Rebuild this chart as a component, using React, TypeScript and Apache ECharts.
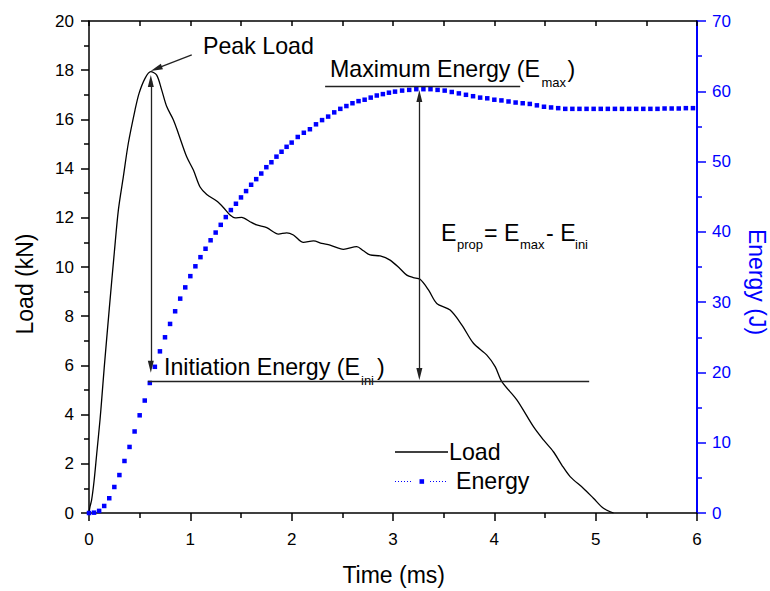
import React, { useEffect, useRef } from 'react';
import * as echarts from 'echarts';

const FONT = "'Liberation Sans', Arial, sans-serif";
const BLUE = '#0000ff';

// Load curve (time in ms, load in kN)
const loadTime = [0, 0.01, 0.026, 0.05, 0.076, 0.109, 0.125, 0.15, 0.2, 0.25, 0.29, 0.339, 0.388, 0.454, 0.494, 0.553, 0.609, 0.668, 0.717, 0.767, 0.833, 0.882, 0.964, 1.03, 1.096, 1.162, 1.26, 1.326, 1.392, 1.441, 1.507, 1.589, 1.655, 1.754, 1.869, 1.951, 2.017, 2.116, 2.215, 2.297, 2.379, 2.511, 2.642, 2.708, 2.774, 2.873, 2.971, 3.07, 3.136, 3.2, 3.267, 3.35, 3.432, 3.564, 3.68, 3.794, 3.926, 4.008, 4.074, 4.222, 4.386, 4.485, 4.583, 4.666, 4.748, 4.88, 4.978, 5.077, 5.176];
const loadKN = [0, 0.26, 0.53, 1.3, 2.4, 3.8, 4.6, 5.9, 8.3, 10.6, 12.32, 13.67, 15.03, 16.38, 17.06, 17.67, 17.94, 17.8, 17.2, 16.52, 15.98, 15.43, 14.48, 13.94, 13.25, 12.95, 12.68, 12.42, 12.11, 12.0, 12.02, 11.84, 11.71, 11.6, 11.34, 11.39, 11.3, 11.0, 11.06, 10.96, 10.89, 10.72, 10.83, 10.66, 10.49, 10.45, 10.28, 9.93, 9.67, 9.57, 9.5, 9.07, 8.52, 8.25, 7.64, 6.9, 6.42, 5.95, 5.34, 4.6, 3.51, 2.97, 2.49, 1.95, 1.48, 1.0, 0.6, 0.19, 0];

// Energy curve (time in ms, energy in J)
const energyTime = [0, 0.05, 0.1, 0.15, 0.2, 0.25, 0.3, 0.35, 0.4, 0.45, 0.5, 0.55, 0.6, 0.65, 0.7, 0.75, 0.8, 0.85, 0.9, 0.95, 1.0, 1.05, 1.1, 1.15, 1.2, 1.25, 1.3, 1.35, 1.4, 1.45, 1.5, 1.55, 1.6, 1.65, 1.7, 1.75, 1.8, 1.85, 1.9, 1.95, 2.0, 2.06, 2.12, 2.18, 2.24, 2.3, 2.36, 2.42, 2.48, 2.54, 2.6, 2.66, 2.72, 2.78, 2.84, 2.9, 2.96, 3.02, 3.09, 3.16, 3.23, 3.3, 3.37, 3.44, 3.51, 3.58, 3.65, 3.72, 3.79, 3.86, 3.93, 4.0, 4.07, 4.14, 4.21, 4.28, 4.35, 4.42, 4.49, 4.56, 4.63, 4.7, 4.77, 4.84, 4.91, 4.98, 5.05, 5.12, 5.19, 5.26, 5.33, 5.4, 5.47, 5.54, 5.61, 5.68, 5.75, 5.82, 5.89, 5.96];
const energyJ = [0, 0.05, 0.3, 1.0, 2.1, 3.7, 5.4, 7.4, 9.4, 11.6, 13.9, 16.0, 18.5, 20.8, 23.0, 25.0, 26.9, 28.7, 30.5, 32.1, 33.7, 35.1, 36.4, 37.6, 38.8, 39.9, 41.0, 42.1, 43.1, 44.0, 44.9, 45.8, 46.7, 47.5, 48.3, 49.2, 49.9, 50.7, 51.4, 52.1, 52.7, 53.5, 54.1, 54.6, 55.3, 55.9, 56.4, 57.0, 57.5, 57.9, 58.3, 58.6, 58.8, 59.1, 59.4, 59.6, 59.8, 59.95, 60.1, 60.2, 60.3, 60.3, 60.3, 60.2, 60.1, 59.9, 59.7, 59.5, 59.3, 59.1, 59.0, 58.8, 58.7, 58.55, 58.4, 58.3, 58.2, 58.0, 57.8, 57.7, 57.6, 57.5, 57.5, 57.5, 57.5, 57.5, 57.5, 57.5, 57.5, 57.5, 57.5, 57.5, 57.5, 57.5, 57.5, 57.55, 57.55, 57.55, 57.6, 57.6];

// Annotation anchors in data units
const peakTime = 0.61;
const iniEnergy = 18.71;
const maxEnergyLine = 60.65;
const maxTime = 3.26;

const ANN = 23.2;

function txt(text: string, x: number, baseline: number, size: number, color = '#000', align = 'left') {
  return {
    type: 'text',
    x,
    y: baseline - 0.3465 * size,
    silent: true,
    style: { text, fontSize: size, fontFamily: FONT, fill: color, align, verticalAlign: 'middle' },
  };
}

export default function App() {
  const ref = useRef<HTMLDivElement>(null);
  useEffect(() => {
    const chart = echarts.init(ref.current!, null, { renderer: 'svg' });
    const tri = { symbol: 'triangle', symbolSize: [6, 12] };
    const axisLineBlack = { show: true, onZero: false, lineStyle: { color: '#000', width: 1.5 } };
    const option: any = {
      animation: false,
      backgroundColor: '#fff',
      grid: { left: 89, right: 73, top: 21, bottom: 78, containLabel: false },
      xAxis: [
        {
          type: 'value', position: 'bottom', min: 0, max: 6, interval: 1,
          axisLine: axisLineBlack,
          axisTick: { show: true, inside: false, length: 8, lineStyle: { color: '#000', width: 1.5 } },
          minorTick: { show: true, splitNumber: 2, length: 5, lineStyle: { color: '#000', width: 1.5 } },
          axisLabel: { color: '#000', fontSize: 17, fontFamily: FONT, margin: 18 },
          splitLine: { show: false },
        },
        {
          type: 'value', position: 'top', min: 0, max: 6, interval: 0.5,
          axisLine: axisLineBlack,
          axisTick: { show: true, inside: true, length: 5, lineStyle: { color: '#000', width: 1.5 } },
          axisLabel: { show: false },
          splitLine: { show: false },
        },
      ],
      yAxis: [
        {
          type: 'value', position: 'left', min: 0, max: 20, interval: 2,
          axisLine: axisLineBlack,
          axisTick: { show: true, inside: false, length: 8, lineStyle: { color: '#000', width: 1.5 } },
          minorTick: { show: true, splitNumber: 2, length: 5, lineStyle: { color: '#000', width: 1.5 } },
          axisLabel: { color: '#000', fontSize: 17, fontFamily: FONT, margin: 15 },
          splitLine: { show: false },
        },
        {
          type: 'value', position: 'right', min: 0, max: 70, interval: 10,
          axisLine: { show: true, onZero: false, lineStyle: { color: BLUE, width: 2 } },
          axisTick: { show: true, inside: false, length: 9, lineStyle: { color: BLUE, width: 1.5 } },
          minorTick: { show: true, splitNumber: 2, length: 5, lineStyle: { color: BLUE, width: 1.5 } },
          axisLabel: { color: BLUE, fontSize: 17, fontFamily: FONT, margin: 15 },
          splitLine: { show: false },
        },
      ],
      series: [
        {
          name: 'Load', type: 'line', xAxisIndex: 0, yAxisIndex: 0,
          data: loadTime.map((t, i) => [t, loadKN[i]]),
          showSymbol: false, symbol: 'none', smooth: 0.3,
          lineStyle: { color: '#000', width: 1.3 },
          z: 3,
          markLine: {
            silent: true, animation: false,
            symbol: ['none', 'none'],
            label: { show: false },
            lineStyle: { color: '#222', width: 1.3, type: 'solid' },
            emphasis: { disabled: true },
            data: [
              [{ coord: [peakTime, 17.56], ...tri }, { coord: [peakTime, 5.95], ...tri }],
              [{ coord: [1.014, 18.62] }, { coord: [0.664, 18.06], ...tri }],
            ],
          },
        },
        {
          name: 'Energy', type: 'line', xAxisIndex: 0, yAxisIndex: 1,
          data: energyTime.map((t, i) => [t, energyJ[i]]),
          symbol: 'rect', symbolSize: 4.5, showSymbol: true, showAllSymbol: true,
          itemStyle: { color: BLUE },
          lineStyle: { color: BLUE, width: 0, opacity: 0 },
          z: 4,
          markLine: {
            silent: true, animation: false,
            symbol: ['none', 'none'],
            label: { show: false },
            lineStyle: { color: '#222', width: 1.3, type: 'solid' },
            emphasis: { disabled: true },
            data: [
              [{ coord: [0.582, iniEnergy] }, { coord: [4.936, iniEnergy] }],
              [{ coord: [2.33, maxEnergyLine] }, { coord: [4.255, maxEnergyLine] }],
              [{ coord: [maxTime, 59.33], ...tri }, { coord: [maxTime, 19.78], ...tri }],
            ],
          },
        },
      ],
      graphic: [
        // axis titles
        txt('Time (ms)', 393.7, 583, 23, '#000', 'center'),
        { type: 'text', x: 24.5, y: 284, rotation: Math.PI / 2, silent: true,
          style: { text: 'Load (kN)', fontSize: 23, fontFamily: FONT, fill: '#000', align: 'center', verticalAlign: 'middle' } },
        { type: 'text', x: 757, y: 282, rotation: -Math.PI / 2, silent: true,
          style: { text: 'Energy (J)', fontSize: 23, fontFamily: FONT, fill: BLUE, align: 'center', verticalAlign: 'middle' } },
        // annotations
        txt('Peak Load', 203, 54, ANN),
        txt('Maximum Energy (E', 330, 76.7, ANN),
        txt('max', 541.5, 87, 13),
        txt(')', 567.5, 76.7, ANN),
        txt('Initiation Energy (E', 164, 375, ANN),
        txt('ini', 361, 385.5, 13),
        txt(')', 377, 375, ANN),
        txt('E', 441, 240.7, ANN),
        txt('prop', 457, 249.5, 13),
        txt('= E', 484, 240.7, ANN),
        txt('max', 520, 249.5, 13),
        txt('- E', 546, 240.7, ANN),
        txt('ini', 575, 249.5, 13),
        // legend
        { type: 'line', silent: true, shape: { x1: 395, y1: 452, x2: 448, y2: 452 }, style: { stroke: '#000', lineWidth: 1.3 } },
        txt('Load', 449, 460, ANN),
        { type: 'line', silent: true, shape: { x1: 395, y1: 481.5, x2: 413, y2: 481.5 }, style: { stroke: BLUE, lineWidth: 1, lineDash: [1, 2] } },
        { type: 'rect', silent: true, shape: { x: 419.5, y: 479.2, width: 4.6, height: 4.6 }, style: { fill: BLUE } },
        { type: 'line', silent: true, shape: { x1: 430, y1: 481.5, x2: 446, y2: 481.5 }, style: { stroke: BLUE, lineWidth: 1, lineDash: [1, 2] } },
        txt('Energy', 456, 489, ANN),
      ],
    };
    chart.setOption(option);
    return () => chart.dispose();
  }, []);
  return <div ref={ref} style={{ position: 'fixed', left: 0, top: 0, width: 770, height: 591 }} />;
}
